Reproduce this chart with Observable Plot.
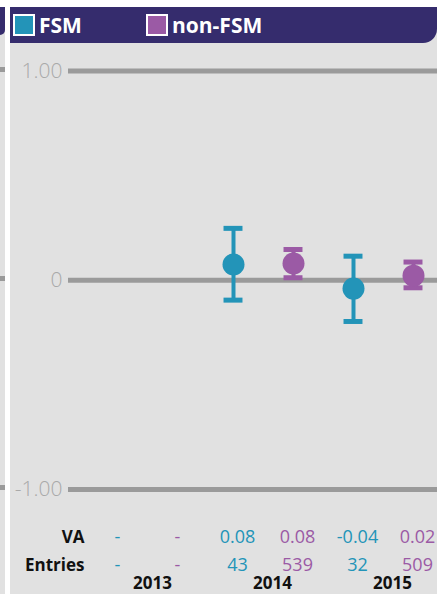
<!DOCTYPE html>
<html><head><meta charset="utf-8">
<script src="https://cdn.jsdelivr.net/npm/d3@7"></script>
<script src="https://cdn.jsdelivr.net/npm/@observablehq/plot@0.6"></script>
<style>
body{margin:0;background:#fff;width:437px;height:594px;overflow:hidden;position:relative;font-family:"Open Sans",sans-serif;}
#strip{position:absolute;left:0;top:7px;width:4.5px;height:587px;background:#e1e1e1;}
#stripHead{position:absolute;left:0;top:0;width:4.5px;height:28px;background:#352c6d;border-bottom-right-radius:5px;}
.stripTick{position:absolute;left:0;width:4.5px;height:5px;background:#9a9a9a;}
#panel{position:absolute;left:10px;top:7px;width:427px;height:587px;background:#e1e1e1;}
#header{position:relative;height:36px;background:#352c6d;border-bottom-right-radius:14px;}
.item{position:absolute;top:0;height:36px;display:flex;align-items:center;}
.sw{width:22px;height:22px;box-sizing:border-box;border:2px solid #fff;}
.lab{margin-left:4px;color:#fff;font-weight:700;font-size:21px;line-height:1;padding-top:1px;}
#chart svg{display:block;background:transparent;overflow:visible;}
#chart g[aria-label="y-axis tick label"] text{font-weight:300;}
</style>
</head><body>
<div id="strip"><div id="stripHead"></div></div>
<div id="panel">
  <div id="header"></div>
  <div id="chart"></div>
</div>
<script>
const years = ["2013", "2014", "2015"];
const groups = ["FSM", "non-FSM"];
const colors = ["#2394b8", "#9b5aa5"];
const fsmMean = [null, 0.075, -0.04];
const fsmLow = [null, -0.095, -0.197];
const fsmHigh = [null, 0.248, 0.115];
const nonMean = [null, 0.08, 0.022];
const nonLow = [null, 0.012, -0.036];
const nonHigh = [null, 0.147, 0.087];
const fsmVA = ["-", "0.08", "-0.04"];
const nonVA = ["-", "0.08", "0.02"];
const fsmEntries = ["-", "43", "32"];
const nonEntries = ["-", "539", "509"];
const rowLabels = ["VA", "Entries"];
const yTicks = [-1, 0, 1];
const yTickLabels = ["-1.00", "0", "1.00"];

// legend
const header = document.getElementById("header");
groups.forEach((g, i) => {
  const it = document.createElement("div");
  it.className = "item";
  it.style.left = (i === 0 ? 3 : 136) + "px";
  it.innerHTML = `<div class="sw" style="background:${colors[i]}"></div><div class="lab">${g}</div>`;
  header.appendChild(it);
});

const series = [
  {mean: fsmMean, lo: fsmLow, hi: fsmHigh, va: fsmVA, n: fsmEntries},
  {mean: nonMean, lo: nonLow, hi: nonHigh, va: nonVA, n: nonEntries}
];
const data = [];
years.forEach((y, yi) => {
  groups.forEach((g, gi) => {
    const s = series[gi];
    data.push({year: y, group: g, xi: yi * 2 + gi, mean: s.mean[yi], lo: s.lo[yi], hi: s.hi[yi], va: s.va[yi], n: s.n[yi]});
  });
});
const valid = data.filter(d => d.mean != null);
const yearRows = years.map((y, yi) => ({year: y, xi: yi * 2 + 0.5}));
const capHalf = 0.158;
const rowDy = [53, 81];

const chart = Plot.plot({
  width: 427,
  height: 551,
  marginTop: 27.5,
  marginBottom: 105,
  marginLeft: 58,
  marginRight: 0,
  style: {fontFamily: "'Open Sans', sans-serif", background: "transparent"},
  x: {type: "linear", domain: [0, 5], range: [103, 403], axis: null},
  y: {domain: [-1, 1], axis: null},
  color: {domain: groups, range: colors},
  marks: [
    Plot.ruleY(yTicks, {stroke: "#9a9a9a", strokeWidth: 5}),
    Plot.axisY({ticks: yTicks, tickFormat: d => yTickLabels[yTicks.indexOf(d)], tickSize: 0, tickPadding: 6, fontSize: 21, color: "#a9a9a9"}),
    Plot.ruleX(valid, {x: "xi", y1: "lo", y2: "hi", stroke: "group", strokeWidth: 4}),
    Plot.ruleY(valid, {y: "hi", x1: d => d.xi - capHalf, x2: d => d.xi + capHalf, stroke: "group", strokeWidth: 5}),
    Plot.ruleY(valid, {y: "lo", x1: d => d.xi - capHalf, x2: d => d.xi + capHalf, stroke: "group", strokeWidth: 5}),
    Plot.dot(valid, {x: "xi", y: "mean", fill: "group", r: 11}),
    Plot.text(data, {x: "xi", frameAnchor: "bottom", text: "va", fill: "group", dy: rowDy[0], dx: 4, fontSize: 18}),
    Plot.text(data, {x: "xi", frameAnchor: "bottom", text: "n", fill: "group", dy: rowDy[1], dx: 4, fontSize: 18}),
    Plot.text([rowLabels[0]], {frameAnchor: "bottom-left", text: d => d, textAnchor: "end", dx: 16, dy: rowDy[0], fontSize: 17, fontWeight: 700, fill: "#111"}),
    Plot.text([rowLabels[1]], {frameAnchor: "bottom-left", text: d => d, textAnchor: "end", dx: 16, dy: rowDy[1], fontSize: 17, fontWeight: 700, fill: "#111"}),
    Plot.text(yearRows, {x: "xi", frameAnchor: "bottom", text: "year", dy: 99, dx: 9, fontSize: 17, fontWeight: 700, fill: "#111"})
  ]
});
document.getElementById("chart").appendChild(chart);

// left strip ticks (neighbouring panel), positioned through the y scale
const ys = chart.scale("y");
const strip = document.getElementById("strip");
yTicks.forEach(v => {
  const t = document.createElement("div");
  t.className = "stripTick";
  t.style.top = (36 + ys.apply(v) - 1.5 - 2.5) + "px";
  strip.appendChild(t);
});
</script>
</body></html>
